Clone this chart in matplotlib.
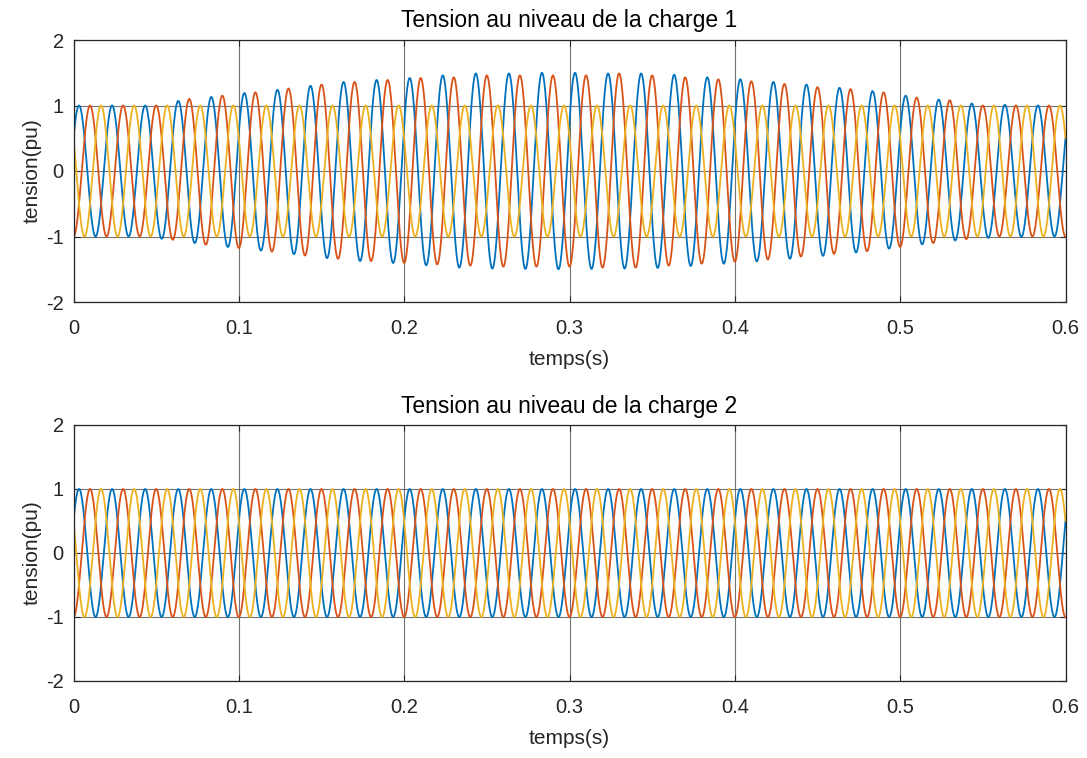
import numpy as np
import matplotlib
matplotlib.use("Agg")
import matplotlib.pyplot as plt

# Three-phase load voltages, 50 Hz, in per unit
f_hz = 50.0
t_end = 0.6
dt = 1e-4

# Peak amplitude of phases a and b for each 20 ms cycle at load 1
amp_a_load1 = [1.00, 1.00, 1.00, 1.07, 1.13, 1.19, 1.24, 1.30, 1.36, 1.39,
               1.42, 1.46, 1.49, 1.49, 1.50, 1.50, 1.49, 1.49, 1.47, 1.43,
               1.40, 1.36, 1.32, 1.27, 1.22, 1.15, 1.09, 1.03, 1.01, 1.00]
amp_b_load1 = [1.00, 1.00, 1.00, 1.10, 1.15, 1.20, 1.26, 1.32, 1.36, 1.39,
               1.42, 1.43, 1.46, 1.46, 1.46, 1.46, 1.49, 1.46, 1.43, 1.40,
               1.37, 1.33, 1.28, 1.25, 1.20, 1.12, 1.08, 1.00, 1.00, 1.00]
amp_c_load1 = [1.00] * 30

# Load 2 stays at nominal amplitude
amp_a_load2 = [1.00] * 30
amp_b_load2 = [1.00] * 30
amp_c_load2 = [1.00] * 30

phase_a = np.pi / 6
phase_shift = 2 * np.pi / 3

titles = ["Tension au niveau de la charge 1", "Tension au niveau de la charge 2"]
xlabel = "temps(s)"
ylabel = "tension(pu)"
xticks = [0, 0.1, 0.2, 0.3, 0.4, 0.5, 0.6]
xtick_labels = ["0", "0.1", "0.2", "0.3", "0.4", "0.5", "0.6"]
yticks = [-2, -1, 0, 1, 2]
ytick_labels = ["-2", "-1", "0", "1", "2"]

colors = ["#0072BD", "#D95319", "#EDB120"]

t = np.arange(0, t_end + dt / 2, dt)
omega = 2 * np.pi * f_hz


def phase_wave(amps, offset):
    # amplitude is given at the positive peak of each cycle
    period = 1.0 / f_hz
    first_peak = ((np.pi / 2 - offset) / omega) % period
    peak_times = first_peak + period * np.arange(len(amps))
    env = np.interp(t, peak_times, amps)
    return env * np.sin(omega * t + offset)


loads = [
    (amp_a_load1, amp_b_load1, amp_c_load1),
    (amp_a_load2, amp_b_load2, amp_c_load2),
]

plt.rcParams["font.family"] = ["Liberation Sans", "DejaVu Sans"]
fig = plt.figure(figsize=(10.87, 7.58), dpi=100)

positions = [
    [73.5 / 1087, 1 - 302 / 758, 992 / 1087, 262 / 758],
    [73.5 / 1087, 1 - 681 / 758, 992 / 1087, 256 / 758],
]
text_color = "#262626"

for pos, title, amps in zip(positions, titles, loads):
    ax = fig.add_axes(pos)
    offsets = [phase_a, phase_a - phase_shift, phase_a + phase_shift]
    for a, off, c in zip(amps, offsets, colors):
        ax.plot(t, phase_wave(a, off), color=c, lw=1.3)
    ax.set_xlim(0, t_end)
    ax.set_ylim(-2, 2)
    ax.set_xticks(xticks)
    ax.set_xticklabels(xtick_labels)
    ax.set_yticks(yticks)
    ax.set_yticklabels(ytick_labels)
    ax.grid(True, color="#5a5a5a", lw=0.8, alpha=0.85)
    ax.tick_params(direction="in", length=4, width=0.8, top=True, right=True,
                   labelsize=14.5, colors=text_color)
    ax.tick_params(axis="x", pad=12)
    ax.tick_params(axis="y", pad=7)
    for sp in ax.spines.values():
        sp.set_color(text_color)
        sp.set_linewidth(0.9)
    ax.set_title(title, fontsize=16.5, color="#000000", pad=9)
    ax.set_xlabel(xlabel, fontsize=15, color=text_color, labelpad=9)
    ax.set_ylabel(ylabel, fontsize=15, color=text_color, labelpad=3)

fig.savefig("out.png", dpi=100)
